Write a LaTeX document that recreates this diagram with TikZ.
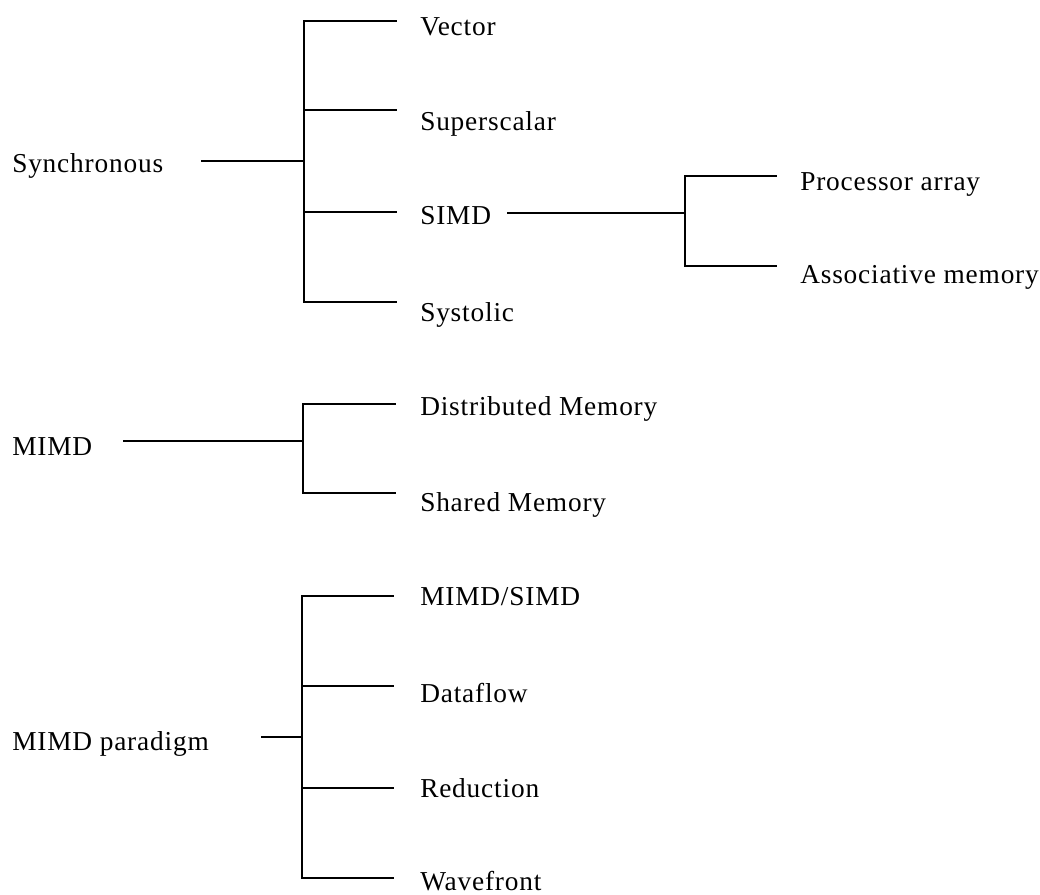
\documentclass[tikz,border=0pt]{standalone}
\usepackage{fontspec}
\setmainfont{Liberation Serif}[LetterSpace=3]
\begin{document}
\begin{tikzpicture}[x=0.75pt,y=-0.75pt,
  lbl/.style={anchor=base west, inner sep=0pt, font=\fontsize{20.5}{24}\selectfont},
  ln/.style={line width=1.8pt, line cap=rect}]
\useasboundingbox (0,0) rectangle (1040,895);

% ---- Synchronous tree
\node[lbl] (sync) at (12,173) {Synchronous};
\node[lbl] (vec) at (420,36) {Vector};
\node[lbl] (sup) at (420,131) {Superscalar};
\node[lbl] (simd) at (420,225) {SIMD};
\node[lbl] (sys) at (420,321) {Systolic};
\coordinate (s0) at (202,161);
\coordinate (sj) at (304,161);
\coordinate (sTop) at (304,21);
\coordinate (sSup) at (304,110);
\coordinate (sSimd) at (304,212);
\coordinate (sBot) at (304,302);
\coordinate (eVec) at (396,21);
\coordinate (eSup) at (396,110);
\coordinate (eSimd) at (396,212);
\coordinate (eSys) at (396,302);
\draw[ln] (s0) -- (sj);
\draw[ln] (eVec) -- (sTop) -- (sBot) -- (eSys);
\draw[ln] (sSup) -- (eSup);
\draw[ln] (sSimd) -- (eSimd);

% ---- SIMD subtree
\node[lbl] (pa) at (800,191) {Processor array};
\node[lbl] (am) at (800,284) {Associative memory};
\coordinate (m0) at (508,213);
\coordinate (mj) at (685,213);
\coordinate (mTop) at (685,176);
\coordinate (mBot) at (685,266);
\coordinate (ePa) at (776,176);
\coordinate (eAm) at (776,266);
\draw[ln] (m0) -- (mj);
\draw[ln] (ePa) -- (mTop) -- (mBot) -- (eAm);

% ---- MIMD tree
\node[lbl] (mimd) at (12,455) {MIMD};
\node[lbl] (dm) at (420,415) {Distributed Memory};
\node[lbl] (sm) at (420,511) {Shared Memory};
\coordinate (d0) at (124,441);
\coordinate (dj) at (303,441);
\coordinate (dTop) at (303,404);
\coordinate (dBot) at (303,493);
\coordinate (eDm) at (395,404);
\coordinate (eSm) at (395,493);
\draw[ln] (d0) -- (dj);
\draw[ln] (eDm) -- (dTop) -- (dBot) -- (eSm);

% ---- MIMD paradigm tree
\node[lbl] (par) at (12,750) {MIMD paradigm};
\node[lbl] (ms) at (420,605) {MIMD/SIMD};
\node[lbl] (df) at (420,702) {Dataflow};
\node[lbl] (red) at (420,797) {Reduction};
\node[lbl] (wf) at (420,890) {Wavefront};
\coordinate (p0) at (262,737);
\coordinate (pj) at (302,737);
\coordinate (pTop) at (302,596);
\coordinate (pDf) at (302,686);
\coordinate (pRed) at (302,788);
\coordinate (pBot) at (302,878);
\coordinate (eMs) at (393,596);
\coordinate (eDf) at (393,686);
\coordinate (eRed) at (393,788);
\coordinate (eWf) at (393,878);
\draw[ln] (p0) -- (pj);
\draw[ln] (eMs) -- (pTop) -- (pBot) -- (eWf);
\draw[ln] (pDf) -- (eDf);
\draw[ln] (pRed) -- (eRed);
\end{tikzpicture}
\end{document}
